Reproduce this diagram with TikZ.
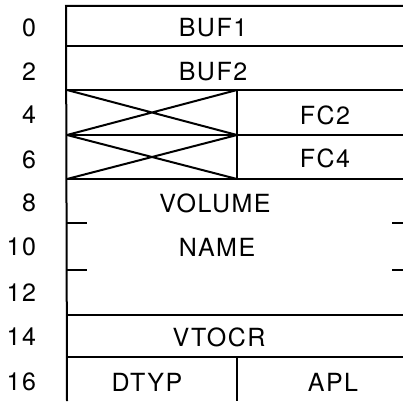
\documentclass[tikz,border=0pt]{standalone}
\usepackage{fontspec}
\setmainfont[LetterSpace=6]{TeX Gyre Heros}

\begin{document}
\begin{tikzpicture}[x=1pt, y=-1pt, line width=2pt]
    \tikzset{field/.style={inner sep=0pt, font=\fontsize{25}{29}\selectfont},
             offset/.style={field, anchor=east}}
    \useasboundingbox (0,0) rectangle (403,401);
    % byte offsets
    \foreach \n/\y in {0/27.5, 2/72, 4/115, 6/160, 8/203, 10/247, 12/293, 14/337, 16/382}
        \node[offset] (off\n) at (37,\y) {\n};
    % frame
    \coordinate (tl) at (66,6);
    \coordinate (bl) at (67,401);
    \draw (bl) -- (tl) -- (403,6);
    \foreach \y in {46, 90, 135, 179, 315, 357}
        \draw (67,\y) -- (403,\y);
    % unused bytes
    \draw (237,90) -- (237,179);
    \draw (67,90) -- (237,135) (67,135) -- (237,90);
    \draw (67,135) -- (237,179) (67,179) -- (237,135);
    % word ticks in the name
    \draw (67,223) -- (87,223) (67,270) -- (87,270);
    \draw (392,223) -- (403,223) (392,270) -- (403,270);
    \draw (237,357) -- (237,401);
    % fields
    \node[field] (buf1) at (213,27.5) {BUF1};
    \node[field] (buf2) at (213,72) {BUF2};
    \node[field] (fc2) at (325,115) {FC2};
    \node[field] (fc4) at (325,158) {FC4};
    \node[field] (vol) at (215,203) {VOLUME};
    \node[field] (name) at (217,247) {NAME};
    \node[field] (vtocr) at (219,337) {VTOCR};
    \node[field] (dtyp) at (147,382) {DTYP};
    \node[field] (apl) at (333,382) {APL};
\end{tikzpicture}
\end{document}
